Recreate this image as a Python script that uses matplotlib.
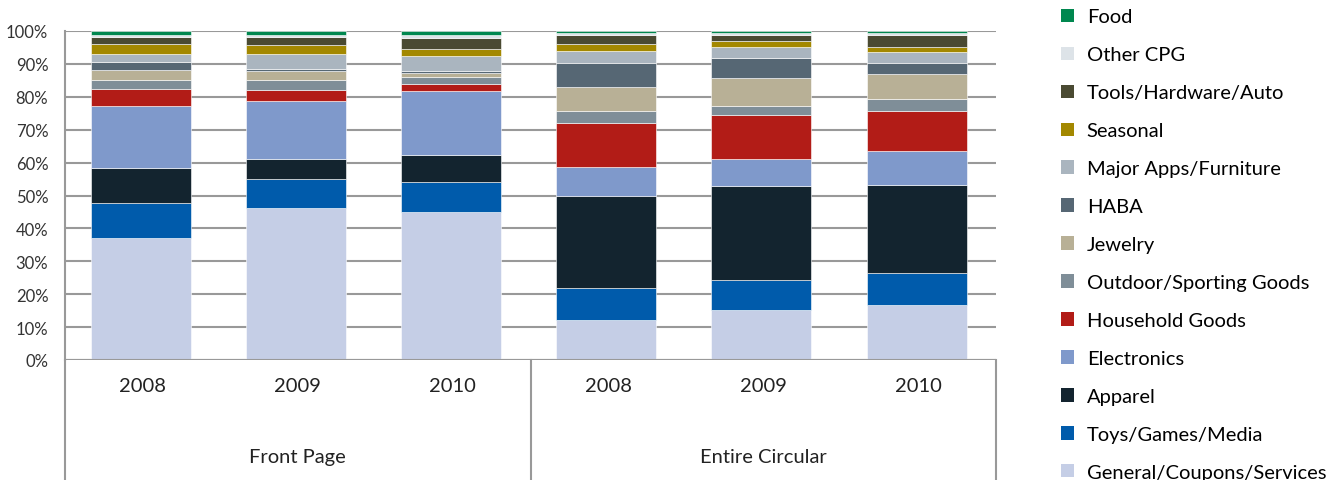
import matplotlib
matplotlib.use("Agg")
import numpy as np
import matplotlib.pyplot as plt
from matplotlib.patches import Patch

plt.rcParams['font.family'] = ['Lato', 'DejaVu Sans']

years = ['2008', '2009', '2010', '2008', '2009', '2010']
groups = ['Front Page', 'Entire Circular']

# share of each category (%), bars in order FP08, FP09, FP10, EC08, EC09, EC10
general = [37.1, 46.3, 45.1, 12.1, 15.3, 16.8]
toys = [10.5, 8.6, 8.9, 9.8, 8.9, 9.6]
apparel = [10.9, 6.2, 8.3, 27.8, 28.7, 26.8]
electronics = [18.6, 17.7, 19.5, 9.0, 8.3, 10.3]
household = [5.3, 3.3, 2.1, 13.4, 13.3, 12.2]
outdoor = [2.7, 3.0, 2.0, 3.5, 2.7, 3.7]
jewelry = [3.0, 2.7, 1.3, 7.3, 8.5, 7.4]
haba = [2.5, 0.7, 0.7, 7.5, 6.0, 3.5]
major_apps = [2.3, 4.5, 4.5, 3.5, 3.3, 3.2]
seasonal = [3.0, 2.6, 2.0, 2.0, 1.9, 1.7]
tools = [2.3, 2.7, 3.5, 2.9, 2.0, 3.5]
other_cpg = [0.7, 0.6, 0.9, 0.6, 0.5, 0.6]
food = [1.1, 1.1, 1.2, 0.6, 0.6, 0.7]

series = [
    ('General/Coupons/Services', general, '#c5cee6'),
    ('Toys/Games/Media', toys, '#005bab'),
    ('Apparel', apparel, '#13242f'),
    ('Electronics', electronics, '#7f99cb'),
    ('Household Goods', household, '#b21c17'),
    ('Outdoor/Sporting Goods', outdoor, '#7f8e98'),
    ('Jewelry', jewelry, '#b8b096'),
    ('HABA', haba, '#566774'),
    ('Major Apps/Furniture', major_apps, '#aab5bf'),
    ('Seasonal', seasonal, '#a38800'),
    ('Tools/Hardware/Auto', tools, '#4a4a32'),
    ('Other CPG', other_cpg, '#dde3e8'),
    ('Food', food, '#00874f'),
]

fig = plt.figure(figsize=(13.4, 4.81), dpi=100)
ax = fig.add_axes([65 / 1340, 1 - 361 / 481, (996 - 65) / 1340, (361 - 32) / 481])

x = np.arange(len(years))
bottom = np.zeros(len(years))
for name, vals, col in series:
    vals = np.array(vals)
    ax.bar(x - 0.012, vals, 0.645, bottom=bottom, color=col, edgecolor='white', linewidth=0.4, zorder=3)
    bottom += vals

ax.set_xlim(-0.5, len(years) - 0.5)
ax.set_ylim(0, 100)
ax.set_yticks(np.arange(0, 101, 10))
ax.set_yticklabels([f'{v}%' for v in range(0, 101, 10)], fontsize=12, color='#333333')
ax.set_xticks([])
ax.tick_params(axis='y', length=0, pad=12)
ax.grid(axis='y', color='#999999', linewidth=1.5, zorder=0)
for s in ['top', 'right', 'bottom']:
    ax.spines[s].set_visible(False)
ax.spines['left'].set_color('#999999')
ax.spines['left'].set_linewidth(1.5)
ax.axhline(0, color='#999999', linewidth=1.5, zorder=4)

# category box under the axis
depth = -120 / 329
for xv in [0, 0.5, 1]:
    ax.plot([xv, xv], [0, depth], transform=ax.transAxes, color='#999999',
            linewidth=1.5, clip_on=False)
for i, y in enumerate(years):
    ax.text(i, -7.6, y, ha='center', va='center', fontsize=14.5, color='#222222')
for j, g in enumerate(groups):
    ax.text(1 + 3 * j, -29.3, g, ha='center', va='center', fontsize=14.5, color='#222222')

handles = [Patch(facecolor=col, label=name) for name, vals, col in series[::-1]]
fig.legend(handles=handles, loc='upper left', bbox_to_anchor=(1053 / 1340, 0.997),
           frameon=False, fontsize=14.5, handlelength=0.65, handleheight=0.65,
           handletextpad=0.62, labelspacing=1.04, borderaxespad=0)

fig.savefig('out.png', dpi=100)
